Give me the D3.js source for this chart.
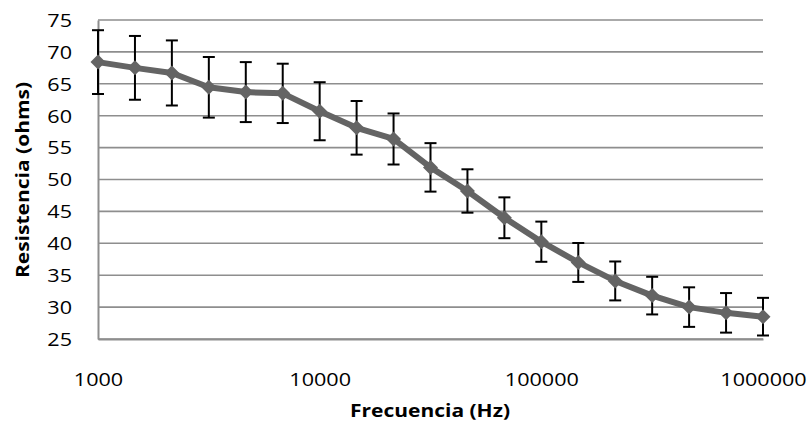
<!DOCTYPE html>
<html>
<head>
<meta charset="utf-8">
<script src="https://cdn.jsdelivr.net/npm/d3@7"></script>
<style>
  html, body { margin: 0; padding: 0; background: #fff; }
  svg { display: block; }
  .tick text { font-family: "Open Sans", sans-serif; font-size: 18px; fill: #000; }
  .title { font-family: "Open Sans", sans-serif; font-size: 17.5px; font-weight: bold; fill: #000; }
</style>
</head>
<body>
<svg id="chart" width="810" height="430"></svg>
<script>
// Frequency sweep: six points per decade from 1 kHz to 1 MHz
const frequencies = [1000, 1468, 2154, 3162, 4642, 6813, 10000, 14678, 21544, 31623, 46416,
  68129, 100000, 146780, 215443, 316228, 464159, 681292, 1000000];
// Measured resistance (ohms)
const resistance = [68.4, 67.5, 66.7, 64.45, 63.7, 63.5, 60.7, 58.1, 56.35, 51.9, 48.2,
  44.0, 40.25, 37.0, 34.1, 31.8, 30.0, 29.1, 28.5];
// Error bar half-width (ohms)
const errors = [5.0, 5.0, 5.1, 4.75, 4.7, 4.65, 4.55, 4.2, 4.0, 3.8, 3.4,
  3.2, 3.15, 3.05, 3.05, 2.95, 3.1, 3.1, 2.95];
const yTicks = [25, 30, 35, 40, 45, 50, 55, 60, 65, 70, 75];
const xTicks = [1000, 10000, 100000, 1000000];

const svg = d3.select("#chart");
const margin = { left: 98, right: 47, top: 20, bottom: 91 };
const W = 810, H = 430;
const SX = 1.2; // widening of label glyphs along the reading direction

const x = d3.scaleLog().domain([1000, 1000000]).range([margin.left, W - margin.right]);
const y = d3.scaleLinear().domain([25, 75]).range([H - margin.bottom, margin.top]);

// Horizontal gridlines
svg.append("g")
  .selectAll("line")
  .data(yTicks)
  .join("line")
  .attr("x1", x.range()[0]).attr("x2", x.range()[1])
  .attr("y1", d => y(d)).attr("y2", d => y(d))
  .attr("stroke", "#8e8e8e").attr("stroke-width", 1.6);

// Left axis with labels
const yAxis = svg.append("g")
  .attr("transform", `translate(${x.range()[0]},0)`)
  .call(d3.axisLeft(y).tickValues(yTicks).tickSize(0).tickFormat(d3.format("d")));
yAxis.select(".domain").attr("stroke", "#8e8e8e").attr("stroke-width", 2);
yAxis.selectAll(".tick text")
  .attr("x", 0).attr("dy", "0.35em")
  .attr("transform", `translate(-26,0) scale(${SX},1)`);

// Bottom axis labels
const xAxis = svg.append("g")
  .attr("transform", `translate(0,${y(25)})`)
  .call(d3.axisBottom(x).tickValues(xTicks).tickSize(0).tickFormat(d3.format("d")));
xAxis.select(".domain").attr("stroke", "#8e8e8e").attr("stroke-width", 2);
xAxis.selectAll(".tick text")
  .attr("y", 0).attr("dy", "0.35em")
  .attr("transform", `translate(0,41) scale(${SX},1)`);

// Error bars
const eb = svg.append("g").attr("stroke", "#000").attr("stroke-width", 2);
const pts = frequencies.map((f, i) => ({ f, r: resistance[i], e: errors[i] }));
eb.selectAll("line.v").data(pts).join("line").attr("class", "v")
  .attr("x1", d => x(d.f)).attr("x2", d => x(d.f))
  .attr("y1", d => y(d.r + d.e)).attr("y2", d => y(d.r - d.e));
eb.selectAll("line.t").data(pts).join("line").attr("class", "t")
  .attr("x1", d => x(d.f) - 6).attr("x2", d => x(d.f) + 6)
  .attr("y1", d => y(d.r + d.e)).attr("y2", d => y(d.r + d.e));
eb.selectAll("line.b").data(pts).join("line").attr("class", "b")
  .attr("x1", d => x(d.f) - 6).attr("x2", d => x(d.f) + 6)
  .attr("y1", d => y(d.r - d.e)).attr("y2", d => y(d.r - d.e));

// Series line
const line = d3.line().x(d => x(d.f)).y(d => y(d.r));
svg.append("path").datum(pts)
  .attr("d", line)
  .attr("fill", "none").attr("stroke", "#646464").attr("stroke-width", 6)
  .attr("stroke-linejoin", "round");

// Diamond markers
svg.append("g").selectAll("path").data(pts).join("path")
  .attr("transform", d => `translate(${x(d.f)},${y(d.r)})`)
  .attr("d", "M0,-7.5L7.5,0L0,7.5L-7.5,0Z")
  .attr("fill", "#646464");

// Axis titles
svg.append("text").attr("class", "title")
  .attr("transform", `translate(430,417) scale(${SX},1)`)
  .attr("text-anchor", "middle")
  .text("Frecuencia (Hz)");
svg.append("text").attr("class", "title")
  .attr("transform", `translate(29,180) rotate(-90) scale(${SX},1)`)
  .attr("text-anchor", "middle")
  .text("Resistencia (ohms)");
</script>
</body>
</html>
